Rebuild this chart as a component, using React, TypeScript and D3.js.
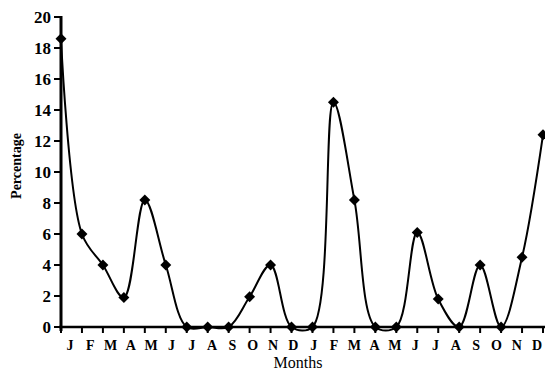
import React, { useRef, useEffect } from "react";
import * as d3 from "d3";

// months over two years
const months = ["J", "F", "M", "A", "M", "J", "J", "A", "S", "O", "N", "D",
  "J", "F", "M", "A", "M", "J", "J", "A", "S", "O", "N", "D"];
const percentage = [18.6, 6.0, 4.0, 1.9, 8.2, 4.0, 0, 0, 0, 1.95, 4.0, 0,
  0, 14.5, 8.2, 0, 0, 6.1, 1.8, 0, 4.0, 0, 4.5, 12.4];
const yTicks = [0, 2, 4, 6, 8, 10, 12, 14, 16, 18, 20];

const W = 545;
const H = 374;

const App = () => {
  const ref = useRef<SVGSVGElement>(null);

  useEffect(() => {
    document.body.style.margin = "0";
    const svg = d3.select(ref.current);
    svg.selectAll("*").remove();

    const idx = months.map((_, i) => i);
    const x = d3.scalePoint<number>().domain(idx).range([61, 543]);
    // labels were laid out a bit differently from the points
    const xLab = d3.scalePoint<number>().domain(idx).range([70, 537]);
    const y = d3.scaleLinear().domain([0, 20]).range([327, 17]);

    const font = "Liberation Serif, Times New Roman, serif";

    // y axis
    const gy = svg.append("g");
    gy.append("line")
      .attr("x1", 61).attr("x2", 61)
      .attr("y1", y(20) - 1).attr("y2", 331)
      .attr("stroke", "#000").attr("stroke-width", 3);
    gy.selectAll("line.t")
      .data(yTicks)
      .enter()
      .append("line")
      .attr("class", "t")
      .attr("x1", 54).attr("x2", 61)
      .attr("y1", (d) => y(d)).attr("y2", (d) => y(d))
      .attr("stroke", "#000").attr("stroke-width", 2);
    gy.selectAll("text")
      .data(yTicks)
      .enter()
      .append("text")
      .attr("x", 51)
      .attr("y", (d) => y(d) + 6)
      .attr("text-anchor", "end")
      .style("font-family", font)
      .style("font-weight", "bold")
      .style("font-size", "17px")
      .text((d) => d);

    // x axis
    const gx = svg.append("g");
    gx.append("line")
      .attr("x1", 59).attr("x2", W)
      .attr("y1", 327).attr("y2", 327)
      .attr("stroke", "#000").attr("stroke-width", 2.5);
    gx.selectAll("line.t")
      .data(idx)
      .enter()
      .append("line")
      .attr("class", "t")
      .attr("x1", (d) => x(d)!).attr("x2", (d) => x(d)!)
      .attr("y1", 327).attr("y2", 333)
      .attr("stroke", "#000").attr("stroke-width", 2);
    gx.selectAll("text")
      .data(idx)
      .enter()
      .append("text")
      .attr("x", (d) => xLab(d)!)
      .attr("y", 350)
      .attr("text-anchor", "middle")
      .style("font-family", font)
      .style("font-weight", "bold")
      .style("font-size", "14px")
      .text((d) => months[d]);

    // axis titles
    svg.append("text")
      .attr("x", 298).attr("y", 368)
      .attr("text-anchor", "middle")
      .style("font-family", font)
      .style("font-size", "16px")
      .text("Months");
    svg.append("text")
      .attr("transform", "translate(21,166) rotate(-90)")
      .attr("text-anchor", "middle")
      .style("font-family", font)
      .style("font-weight", "bold")
      .style("font-size", "14px")
      .text("Percentage");

    // smoothed line
    const line = d3.line<number>()
      .x((d, i) => x(i)!)
      .y((d) => y(d))
      .curve(d3.curveCatmullRom.alpha(0.5));
    svg.append("path")
      .datum(percentage)
      .attr("d", line)
      .attr("fill", "none")
      .attr("stroke", "#000")
      .attr("stroke-width", 2);

    // diamond markers
    const sym = d3.symbol().type(d3.symbolSquare).size(60);
    svg.append("g")
      .selectAll("path")
      .data(percentage)
      .enter()
      .append("path")
      .attr("d", sym)
      .attr("transform", (d, i) => `translate(${x(i)},${y(d)}) rotate(45)`)
      .attr("fill", "#000");
  }, []);

  return <svg ref={ref} width={W} height={H} style={{ display: "block" }}></svg>;
};

export default App;
